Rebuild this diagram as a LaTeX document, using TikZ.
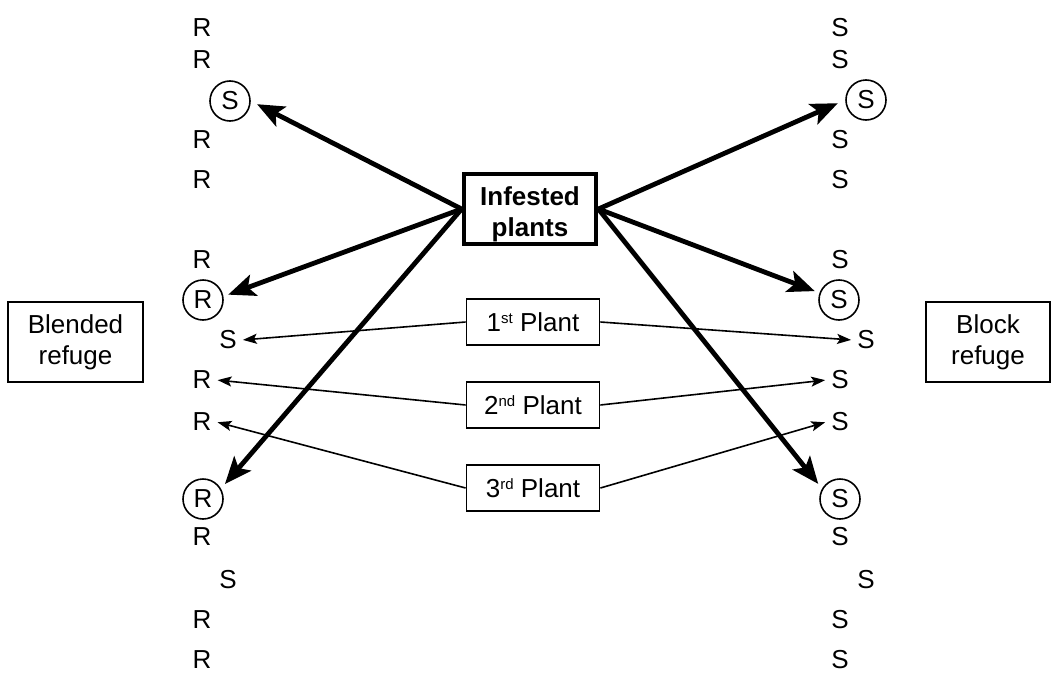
\documentclass[tikz,border=0pt]{standalone}
\usepackage{fontspec}
\setmainfont{Liberation Sans}
\usetikzlibrary{arrows.meta}
\newcommand{\supx}[1]{\raisebox{8pt}{\fontsize{15}{15}\selectfont #1}}
\begin{document}
\begin{tikzpicture}[x=1pt,y=-1pt,
  every node/.style={font=\fontsize{26}{31}\selectfont},
  lt/.style={inner sep=5pt},
  circ/.style={draw, circle, line width=1.6pt, minimum size=40pt, inner sep=0pt},
  box/.style={draw, line width=1.8pt, align=center, inner sep=0pt},
  thickarrow/.style={line width=4.8pt, -{Stealth[length=27pt,width=22pt,inset=6pt]}},
  thinarrow/.style={line width=1.6pt, -{Stealth[length=14pt,width=10pt,inset=3pt]}, shorten >=1pt}
]
\path[use as bounding box] (0,0) rectangle (1051,677);

% left column
\node[lt] (L1) at (202,28) {R};
\node[lt] (L2) at (202,60) {R};
\node[circ] (L3) at (230,101) {S};
\node[lt] (L4) at (202,140) {R};
\node[lt] (L5) at (202,180) {R};
\node[lt] (L6) at (202,260) {R};
\node[circ] (L7) at (203,300) {R};
\node[lt] (L8) at (228,340) {S};
\node[lt] (L9) at (202,380) {R};
\node[lt] (L10) at (202,422) {R};
\node[circ] (L11) at (203,499) {R};
\node[lt] (L12) at (202,537) {R};
\node[lt] (L13) at (228,580) {S};
\node[lt] (L14) at (202,620) {R};
\node[lt] (L15) at (202,660) {R};

% right column
\node[lt] (R1) at (840,28) {S};
\node[lt] (R2) at (840,60) {S};
\node[circ] (R3) at (866,100) {S};
\node[lt] (R4) at (840,140) {S};
\node[lt] (R5) at (840,180) {S};
\node[lt] (R6) at (840,260) {S};
\node[circ] (R7) at (839,300) {S};
\node[lt] (R8) at (866,340) {S};
\node[lt] (R9) at (840,380) {S};
\node[lt] (R10) at (840,422) {S};
\node[circ] (R11) at (840,499) {S};
\node[lt] (R12) at (840,537) {S};
\node[lt] (R13) at (866,580) {S};
\node[lt] (R14) at (840,620) {S};
\node[lt] (R15) at (840,660) {S};

% boxes
\node[box, line width=4.8pt, minimum width=132pt, minimum height=70pt] (inf) at (530,209) {};
\node[align=center, inner sep=0pt, font=\fontsize{26}{31}\selectfont\bfseries] (inftext) at (530,214) {Infested\\plants};
\node[box, minimum width=133pt, minimum height=46pt] (p1) at (533,322) {1\supx{st} Plant};
\node[box, minimum width=133pt, minimum height=46pt] (p2) at (533,405) {2\supx{nd} Plant};
\node[box, minimum width=133pt, minimum height=46pt] (p3) at (533,488) {3\supx{rd} Plant};
\node[box, minimum width=135pt, minimum height=80pt] (blend) at (75.5,342) {Blended\\refuge};
\node[box, minimum width=124pt, minimum height=80pt] (block) at (988,342) {Block\\refuge};

% thick arrows
\draw[thickarrow, shorten >=7pt] (inf.west) -- (L3.east);
\draw[thickarrow, shorten >=5pt] (inf.west) -- (L7.10);
\draw[thickarrow, shorten >=6pt] (inf.west) -- (L11.30);
\draw[thickarrow, shorten >=8pt] (inf.east) -- (R3.west);
\draw[thickarrow, shorten >=5pt] (inf.east) -- (R7.160);
\draw[thickarrow, shorten >=6pt] (inf.east) -- (R11.150);

% thin arrows
\draw[thinarrow] (p1.west) -- (L8.east);
\draw[thinarrow] (p1.east) -- (R8.west);
\draw[thinarrow] (p2.west) -- (L9.east);
\draw[thinarrow] (p2.east) -- (R9.west);
\draw[thinarrow] (p3.west) -- (L10.east);
\draw[thinarrow] (p3.east) -- (R10.west);
\end{tikzpicture}
\end{document}
